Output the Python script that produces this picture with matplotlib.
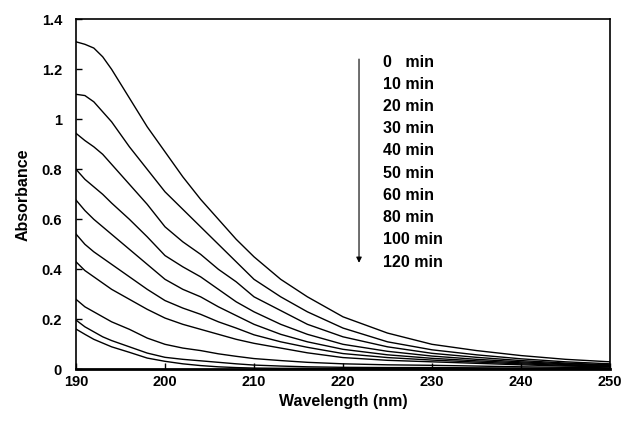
import numpy as np
import matplotlib
matplotlib.use("Agg")
import matplotlib.pyplot as plt

plt.rcParams['font.family'] = ['Liberation Sans', 'DejaVu Sans']

wl = [190, 191, 192, 193, 194, 196, 198, 200, 202, 204, 206, 208, 210, 213, 216, 220, 225, 230, 235, 240, 245, 250]

a0 = [1.31, 1.30, 1.285, 1.25, 1.20, 1.085, 0.97, 0.87, 0.77, 0.68, 0.60, 0.52, 0.45, 0.36, 0.29, 0.21, 0.145, 0.10, 0.075, 0.055, 0.04, 0.03]
a10 = [1.10, 1.095, 1.07, 1.03, 0.99, 0.89, 0.80, 0.71, 0.64, 0.57, 0.50, 0.43, 0.36, 0.29, 0.23, 0.165, 0.11, 0.078, 0.058, 0.042, 0.03, 0.022]
a20 = [0.944, 0.915, 0.89, 0.86, 0.82, 0.74, 0.66, 0.57, 0.51, 0.46, 0.40, 0.35, 0.29, 0.235, 0.18, 0.13, 0.09, 0.064, 0.048, 0.035, 0.025, 0.018]
a30 = [0.80, 0.76, 0.73, 0.70, 0.665, 0.60, 0.53, 0.455, 0.41, 0.37, 0.32, 0.27, 0.23, 0.18, 0.14, 0.10, 0.072, 0.053, 0.04, 0.03, 0.022, 0.016]
a40 = [0.677, 0.635, 0.60, 0.57, 0.54, 0.48, 0.42, 0.36, 0.32, 0.29, 0.25, 0.215, 0.18, 0.14, 0.11, 0.08, 0.058, 0.044, 0.034, 0.026, 0.019, 0.014]
a50 = [0.541, 0.50, 0.47, 0.445, 0.42, 0.37, 0.32, 0.275, 0.245, 0.22, 0.19, 0.165, 0.138, 0.11, 0.088, 0.063, 0.047, 0.037, 0.029, 0.022, 0.016, 0.012]
a60 = [0.43, 0.395, 0.37, 0.345, 0.32, 0.28, 0.24, 0.205, 0.18, 0.16, 0.14, 0.12, 0.104, 0.085, 0.066, 0.047, 0.036, 0.03, 0.024, 0.018, 0.013, 0.01]
a80 = [0.28, 0.25, 0.23, 0.21, 0.19, 0.16, 0.125, 0.10, 0.085, 0.075, 0.062, 0.052, 0.043, 0.035, 0.028, 0.022, 0.018, 0.016, 0.013, 0.01, 0.008, 0.006]
a100 = [0.197, 0.17, 0.15, 0.13, 0.115, 0.09, 0.065, 0.048, 0.04, 0.034, 0.028, 0.022, 0.017, 0.013, 0.01, 0.008, 0.007, 0.007, 0.006, 0.005, 0.004, 0.003]
a120 = [0.161, 0.14, 0.12, 0.105, 0.09, 0.068, 0.045, 0.032, 0.022, 0.015, 0.01, 0.007, 0.005, 0.004, 0.004, 0.003, 0.003, 0.003, 0.003, 0.002, 0.002, 0.002]

series = [a0, a10, a20, a30, a40, a50, a60, a80, a100, a120]
labels = ["0   min", "10 min", "20 min", "30 min", "40 min", "50 min",
          "60 min", "80 min", "100 min", "120 min"]

fig = plt.figure(figsize=(6.35, 4.28), dpi=100)
ax = fig.add_axes([0.1197, 0.1371, 0.8409, 0.8178])

for s in series:
    ax.plot(wl, s, color='black', lw=1.0)

ax.set_xlim(190, 250)
ax.set_ylim(0, 1.4)
ax.set_xticks([190, 200, 210, 220, 230, 240, 250])
ax.set_yticks([0, 0.2, 0.4, 0.6, 0.8, 1.0, 1.2, 1.4])
ax.set_yticklabels(["0", "0.2", "0.4", "0.6", "0.8", "1", "1.2", "1.4"])
ax.tick_params(direction='in', length=4, width=1, labelsize=10.5)
for lab in ax.get_xticklabels() + ax.get_yticklabels():
    lab.set_fontweight('bold')
ax.tick_params(axis='x', pad=4)
ax.tick_params(axis='y', pad=10)
for sp in ax.spines.values():
    sp.set_linewidth(1.2)
ax.spines['bottom'].set_linewidth(2)

ax.set_xlabel("Wavelength (nm)", fontsize=11.5, fontweight='bold', labelpad=4)
ax.set_ylabel("Absorbance", fontsize=11.5, fontweight='bold', labelpad=8)

# arrow and time labels
ax.annotate("", xy=(221.8, 0.415), xytext=(221.8, 1.252),
            arrowprops=dict(arrowstyle='-|>', color='black', lw=0.8,
                            mutation_scale=8))
ytop = 1.229
for i, lab in enumerate(labels):
    ax.text(224.5, ytop - i * 0.0889, lab, fontsize=11.5, fontweight='bold',
            va='center', ha='left')

fig.savefig("out.png", dpi=100)
